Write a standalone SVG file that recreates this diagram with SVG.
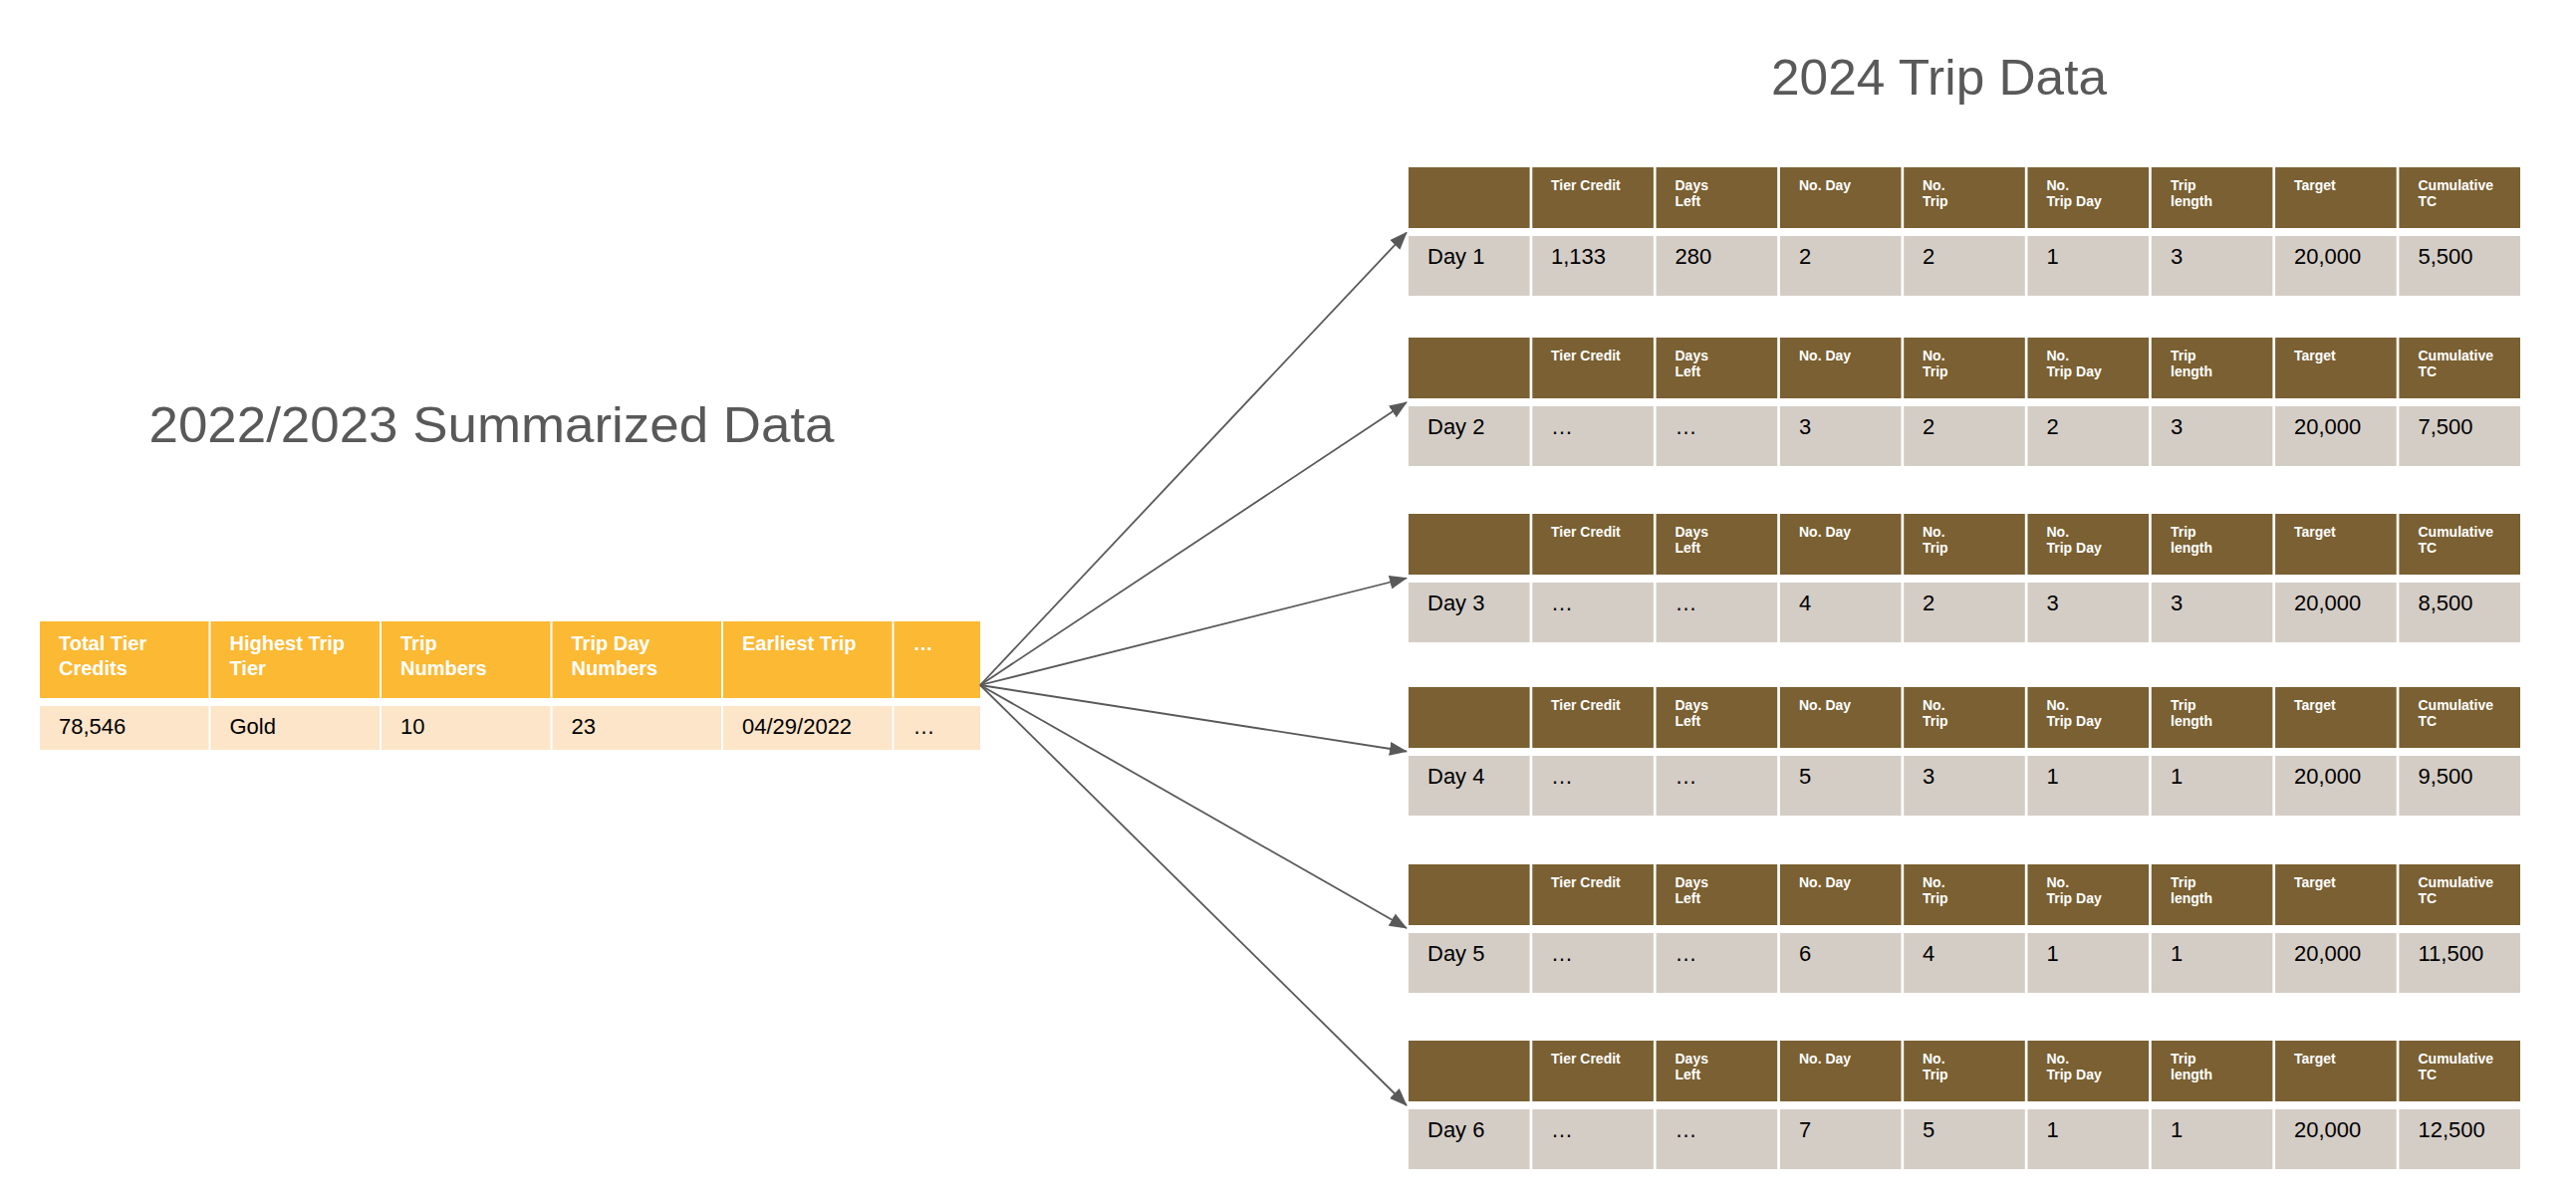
<svg xmlns="http://www.w3.org/2000/svg" width="2586" height="1196" viewBox="0 0 2586 1196">
  <style>
    .title { font-family: "Liberation Sans", Arial, sans-serif; font-size: 50px; fill: #595959; }
    .lh { fill: #FBB934; }
    .ld { fill: #FDE5C9; }
    .lht { font-family: "Liberation Sans", Arial, sans-serif; font-size: 20px; font-weight: bold; fill: #FFFFFF; }
    .ldt { font-family: "Liberation Sans", Arial, sans-serif; font-size: 22px; fill: #000000; }
    .rh { fill: #7A6032; }
    .rd { fill: #D4CDC6; }
    .rht { font-family: "Liberation Sans", Arial, sans-serif; font-size: 14px; font-weight: bold; fill: #FFFFFF; }
    .rdt { font-family: "Liberation Sans", Arial, sans-serif; font-size: 22px; fill: #000000; }
    .conn { stroke: #595959; stroke-width: 1.8; fill: none; }
  </style>
  <defs>
    <marker id="arrow" viewBox="0 0 18 14" refX="17" refY="7" markerWidth="18" markerHeight="14" markerUnits="userSpaceOnUse" orient="auto">
      <path d="M0,0 L18,7 L0,14 z" fill="#595959"/>
    </marker>
    <g id="rhead">
      <rect class="rh" x="1414" y="0" width="121.6" height="61"/>
      <rect class="rh" x="1538.3" y="0" width="121.6" height="61"/>
      <rect class="rh" x="1662.6" y="0" width="121.6" height="61"/>
      <rect class="rh" x="1786.9" y="0" width="121.6" height="61"/>
      <rect class="rh" x="1911.2" y="0" width="121.6" height="61"/>
      <rect class="rh" x="2035.5" y="0" width="121.6" height="61"/>
      <rect class="rh" x="2159.8" y="0" width="121.6" height="61"/>
      <rect class="rh" x="2284.1" y="0" width="121.6" height="61"/>
      <rect class="rh" x="2408.4" y="0" width="121.6" height="61"/>
      <text class="rht" x="1557" y="22.5">Tier Credit</text>
      <text class="rht" x="1681.5" y="22.5">Days</text>
      <text class="rht" x="1681.5" y="38.5">Left</text>
      <text class="rht" x="1806" y="22.5">No. Day</text>
      <text class="rht" x="1930" y="22.5">No.</text>
      <text class="rht" x="1930" y="38.5">Trip</text>
      <text class="rht" x="2054.5" y="22.5">No.</text>
      <text class="rht" x="2054.5" y="38.5">Trip Day</text>
      <text class="rht" x="2179" y="22.5">Trip</text>
      <text class="rht" x="2179" y="38.5">length</text>
      <text class="rht" x="2303" y="22.5">Target</text>
      <text class="rht" x="2427.5" y="22.5">Cumulative</text>
      <text class="rht" x="2427.5" y="38.5">TC</text>
      <rect class="rd" x="1414" y="69" width="121.6" height="60"/>
      <rect class="rd" x="1538.3" y="69" width="121.6" height="60"/>
      <rect class="rd" x="1662.6" y="69" width="121.6" height="60"/>
      <rect class="rd" x="1786.9" y="69" width="121.6" height="60"/>
      <rect class="rd" x="1911.2" y="69" width="121.6" height="60"/>
      <rect class="rd" x="2035.5" y="69" width="121.6" height="60"/>
      <rect class="rd" x="2159.8" y="69" width="121.6" height="60"/>
      <rect class="rd" x="2284.1" y="69" width="121.6" height="60"/>
      <rect class="rd" x="2408.4" y="69" width="121.6" height="60"/>
    </g>
  </defs>
  <rect x="0" y="0" width="2586" height="1196" fill="#FFFFFF"/>

  <text class="title" x="1778" y="95" textLength="337" lengthAdjust="spacingAndGlyphs">2024 Trip Data</text>
  <text class="title" x="149.5" y="444" textLength="688" lengthAdjust="spacingAndGlyphs">2022/2023 Summarized Data</text>

  <g id="summary-table">
    <rect class="lh" x="40" y="624" width="169.5" height="77"/>
    <rect class="lh" x="211.5" y="624" width="169.5" height="77"/>
    <rect class="lh" x="383" y="624" width="169.5" height="77"/>
    <rect class="lh" x="554.5" y="624" width="169.5" height="77"/>
    <rect class="lh" x="726" y="624" width="169.5" height="77"/>
    <rect class="lh" x="897.5" y="624" width="86.5" height="77"/>
    <text class="lht" x="59" y="653">Total Tier</text>
    <text class="lht" x="59" y="678">Credits</text>
    <text class="lht" x="230.5" y="653">Highest Trip</text>
    <text class="lht" x="230.5" y="678">Tier</text>
    <text class="lht" x="402" y="653">Trip</text>
    <text class="lht" x="402" y="678">Numbers</text>
    <text class="lht" x="573.5" y="653">Trip Day</text>
    <text class="lht" x="573.5" y="678">Numbers</text>
    <text class="lht" x="745" y="653">Earliest Trip</text>
    <text class="lht" x="916.5" y="653">…</text>
    <rect class="ld" x="40" y="709" width="169.5" height="44"/>
    <rect class="ld" x="211.5" y="709" width="169.5" height="44"/>
    <rect class="ld" x="383" y="709" width="169.5" height="44"/>
    <rect class="ld" x="554.5" y="709" width="169.5" height="44"/>
    <rect class="ld" x="726" y="709" width="169.5" height="44"/>
    <rect class="ld" x="897.5" y="709" width="86.5" height="44"/>
    <text class="ldt" x="59" y="737">78,546</text>
    <text class="ldt" x="230.5" y="737">Gold</text>
    <text class="ldt" x="402" y="737">10</text>
    <text class="ldt" x="573.5" y="737">23</text>
    <text class="ldt" x="745" y="737">04/29/2022</text>
    <text class="ldt" x="916.5" y="737">…</text>
  </g>

  <g id="day1">
    <use href="#rhead" transform="translate(0,168)"/>
    <g transform="translate(0,265)">
      <text class="rdt" x="1433" y="0">Day 1</text>
      <text class="rdt" x="1557" y="0">1,133</text>
      <text class="rdt" x="1681.5" y="0">280</text>
      <text class="rdt" x="1806" y="0">2</text>
      <text class="rdt" x="1930" y="0">2</text>
      <text class="rdt" x="2054.5" y="0">1</text>
      <text class="rdt" x="2179" y="0">3</text>
      <text class="rdt" x="2303" y="0">20,000</text>
      <text class="rdt" x="2427.5" y="0">5,500</text>
    </g>
  </g>

  <g id="day2">
    <use href="#rhead" transform="translate(0,339)"/>
    <g transform="translate(0,436)">
      <text class="rdt" x="1433" y="0">Day 2</text>
      <text class="rdt" x="1557" y="0">…</text>
      <text class="rdt" x="1681.5" y="0">…</text>
      <text class="rdt" x="1806" y="0">3</text>
      <text class="rdt" x="1930" y="0">2</text>
      <text class="rdt" x="2054.5" y="0">2</text>
      <text class="rdt" x="2179" y="0">3</text>
      <text class="rdt" x="2303" y="0">20,000</text>
      <text class="rdt" x="2427.5" y="0">7,500</text>
    </g>
  </g>

  <g id="day3">
    <use href="#rhead" transform="translate(0,516)"/>
    <g transform="translate(0,613)">
      <text class="rdt" x="1433" y="0">Day 3</text>
      <text class="rdt" x="1557" y="0">…</text>
      <text class="rdt" x="1681.5" y="0">…</text>
      <text class="rdt" x="1806" y="0">4</text>
      <text class="rdt" x="1930" y="0">2</text>
      <text class="rdt" x="2054.5" y="0">3</text>
      <text class="rdt" x="2179" y="0">3</text>
      <text class="rdt" x="2303" y="0">20,000</text>
      <text class="rdt" x="2427.5" y="0">8,500</text>
    </g>
  </g>

  <g id="day4">
    <use href="#rhead" transform="translate(0,690)"/>
    <g transform="translate(0,787)">
      <text class="rdt" x="1433" y="0">Day 4</text>
      <text class="rdt" x="1557" y="0">…</text>
      <text class="rdt" x="1681.5" y="0">…</text>
      <text class="rdt" x="1806" y="0">5</text>
      <text class="rdt" x="1930" y="0">3</text>
      <text class="rdt" x="2054.5" y="0">1</text>
      <text class="rdt" x="2179" y="0">1</text>
      <text class="rdt" x="2303" y="0">20,000</text>
      <text class="rdt" x="2427.5" y="0">9,500</text>
    </g>
  </g>

  <g id="day5">
    <use href="#rhead" transform="translate(0,868)"/>
    <g transform="translate(0,965)">
      <text class="rdt" x="1433" y="0">Day 5</text>
      <text class="rdt" x="1557" y="0">…</text>
      <text class="rdt" x="1681.5" y="0">…</text>
      <text class="rdt" x="1806" y="0">6</text>
      <text class="rdt" x="1930" y="0">4</text>
      <text class="rdt" x="2054.5" y="0">1</text>
      <text class="rdt" x="2179" y="0">1</text>
      <text class="rdt" x="2303" y="0">20,000</text>
      <text class="rdt" x="2427.5" y="0">11,500</text>
    </g>
  </g>

  <g id="day6">
    <use href="#rhead" transform="translate(0,1045)"/>
    <g transform="translate(0,1142)">
      <text class="rdt" x="1433" y="0">Day 6</text>
      <text class="rdt" x="1557" y="0">…</text>
      <text class="rdt" x="1681.5" y="0">…</text>
      <text class="rdt" x="1806" y="0">7</text>
      <text class="rdt" x="1930" y="0">5</text>
      <text class="rdt" x="2054.5" y="0">1</text>
      <text class="rdt" x="2179" y="0">1</text>
      <text class="rdt" x="2303" y="0">20,000</text>
      <text class="rdt" x="2427.5" y="0">12,500</text>
    </g>
  </g>

  <g id="connectors">
    <line class="conn" x1="984" y1="688" x2="1412" y2="233.5" marker-end="url(#arrow)"/>
    <line class="conn" x1="984" y1="688" x2="1412" y2="404" marker-end="url(#arrow)"/>
    <line class="conn" x1="984" y1="688" x2="1412" y2="580.5" marker-end="url(#arrow)"/>
    <line class="conn" x1="984" y1="688" x2="1412" y2="754.5" marker-end="url(#arrow)"/>
    <line class="conn" x1="984" y1="688" x2="1412" y2="932" marker-end="url(#arrow)"/>
    <line class="conn" x1="984" y1="688" x2="1412" y2="1110" marker-end="url(#arrow)"/>
  </g>
</svg>
